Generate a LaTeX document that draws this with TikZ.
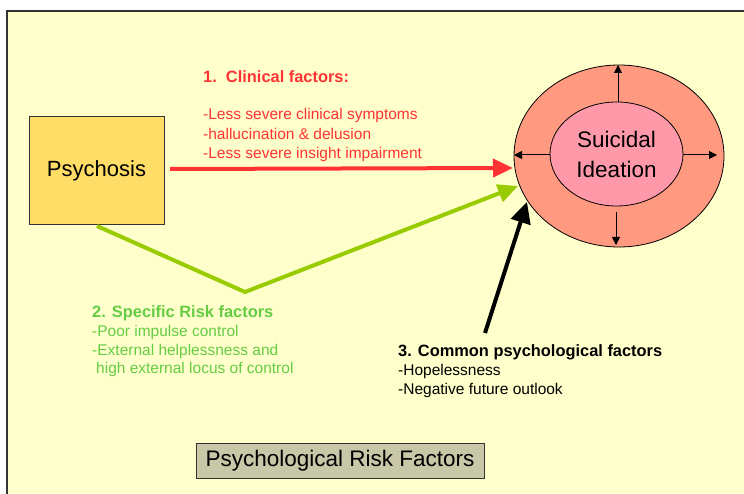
\documentclass[tikz,border=0pt]{standalone}
\usepackage{fontspec}
\setmainfont{Liberation Sans}
\usetikzlibrary{arrows.meta,shapes.geometric}
\definecolor{bgyellow}{HTML}{FFFFCC}
\definecolor{boxyellow}{HTML}{FFDD66}
\definecolor{outerred}{HTML}{FF9980}
\definecolor{innerpink}{HTML}{FF99AA}
\definecolor{redtxt}{HTML}{FF3333}
\definecolor{greentxt}{HTML}{66CC44}
\definecolor{greenarrow}{HTML}{99CC00}
\definecolor{titlegray}{HTML}{C8C8A8}
\tikzset{
  bigarrow/.style={line width=4pt,-{Triangle[length=20pt,width=18pt]}},
  smallarrow/.style={line width=1pt,-{Triangle[length=8pt,width=8pt]}},
  txt/.style={anchor=base west,inner sep=0pt,font=\fontsize{15.5}{18}\selectfont},
  hdr/.style={anchor=base west,inner sep=0pt,font=\fontsize{16.4}{18}\selectfont\bfseries},
}
\begin{document}
\begin{tikzpicture}[x=1pt,y=-1pt]
\useasboundingbox (0,0) rectangle (744,494);
\fill[white] (0,0) rectangle (744,494);
\fill[bgyellow] (7,11) rectangle (744,494);
\draw[line width=1.5pt,black!80] (7,494) -- (7,11) -- (744,11);
% Psychosis box
\node[draw=black!80,line width=1pt,fill=boxyellow,minimum width=135pt,minimum height=108pt,inner sep=0pt,font=\fontsize{22}{26}\selectfont] (psy) at (96.5,171) {Psychosis};
% Ellipses
\node[draw=black,line width=0.8pt,fill=outerred,ellipse,minimum width=210pt,minimum height=182pt,inner sep=0pt] (outer) at (619,156) {};
\node[draw=black,line width=0.8pt,fill=innerpink,ellipse,minimum width=133pt,minimum height=104pt,inner sep=0pt,align=center,font=\fontsize{22.5}{30}\selectfont] (inner) at (616.5,154) {Suicidal\\Ideation};
\coordinate (it) at (618,102);
\coordinate (ot) at (618,65);
\coordinate (ib) at (616,212);
\coordinate (ob) at (616,245);
\coordinate (il) at (550,155);
\coordinate (ol) at (514,155);
\coordinate (ir) at (683,155);
\coordinate (or) at (717,155);
\draw[smallarrow] (it) -- (ot);
\draw[smallarrow] (ib) -- (ob);
\draw[smallarrow] (il) -- (ol);
\draw[smallarrow] (ir) -- (or);
% Connectors
\coordinate (rs) at (170,169);
\coordinate (re) at (513,168);
\draw[bigarrow,draw=redtxt] (rs) -- (re);
\coordinate (gs) at (97,226);
\coordinate (gv) at (245,292);
\coordinate (ge) at (518,186);
\draw[bigarrow,draw=greenarrow,line join=miter] (gs) -- (gv) -- (ge);
\coordinate (bs) at (485,333);
\coordinate (be) at (527,202);
\draw[line width=4pt,-{Triangle[length=21pt,width=20pt]},black] (bs) -- (be);
% Texts
\node[hdr,text=redtxt] (t1) at (203,83) {1.\ \ Clinical factors:};
\node[txt,text=redtxt] (t1a) at (203,120) {-Less severe clinical symptoms};
\node[txt,text=redtxt] (t1b) at (203,139.5) {-hallucination \& delusion};
\node[txt,text=redtxt] (t1c) at (203,159) {-Less severe insight impairment};
\node[hdr,text=greentxt] (t2) at (92,317) {2. Specific Risk factors};
\node[txt,text=greentxt] (t2a) at (92,336) {-Poor impulse control};
\node[txt,text=greentxt] (t2b) at (92,355) {-External helplessness and};
\node[txt,text=greentxt] (t2c) at (96,373.5) {high external locus of control};
\node[hdr] (t3) at (398,356) {3. Common psychological factors};
\node[txt] (t3a) at (398,375) {-Hopelessness};
\node[txt] (t3b) at (398,394) {-Negative future outlook};
% Title box
\node[draw=black!80,line width=1pt,fill=titlegray,minimum width=288pt,minimum height=35pt,inner sep=0pt,font=\fontsize{22.5}{26}\selectfont] (title) at (340,460.5) {Psychological Risk Factors};
\end{tikzpicture}
\end{document}
